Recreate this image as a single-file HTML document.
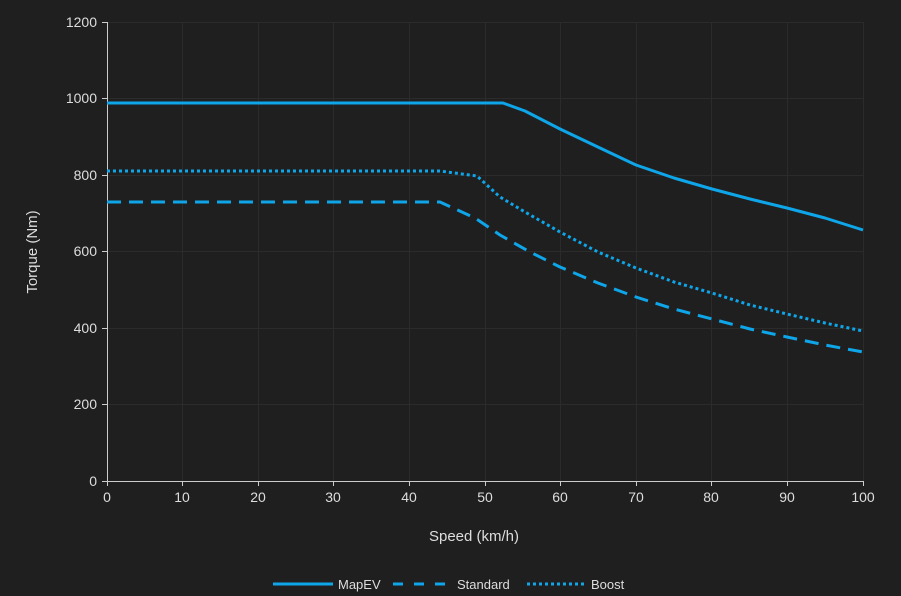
<!DOCTYPE html><html><head><style>body{margin:0;background:#1f1f1f}svg{display:block}text{font-family:"Liberation Sans",sans-serif;fill:#ddd}</style></head><body>
<svg width="901" height="596" viewBox="0 0 901 596">
<rect width="901" height="596" fill="#1f1f1f"/>
<g stroke="#2b2b2b" stroke-width="1">
<line x1="107" y1="22.5" x2="863" y2="22.5"/><line x1="107" y1="98.5" x2="863" y2="98.5"/><line x1="107" y1="175.5" x2="863" y2="175.5"/><line x1="107" y1="251.5" x2="863" y2="251.5"/><line x1="107" y1="328.5" x2="863" y2="328.5"/><line x1="107" y1="404.5" x2="863" y2="404.5"/>
<line x1="182.5" y1="22" x2="182.5" y2="481"/><line x1="258.5" y1="22" x2="258.5" y2="481"/><line x1="333.5" y1="22" x2="333.5" y2="481"/><line x1="409.5" y1="22" x2="409.5" y2="481"/><line x1="485.5" y1="22" x2="485.5" y2="481"/><line x1="560.5" y1="22" x2="560.5" y2="481"/><line x1="636.5" y1="22" x2="636.5" y2="481"/><line x1="711.5" y1="22" x2="711.5" y2="481"/><line x1="787.5" y1="22" x2="787.5" y2="481"/><line x1="863.5" y1="22" x2="863.5" y2="481"/>
</g>
<g stroke="#ccc" stroke-width="1">
<line x1="107.5" y1="22" x2="107.5" y2="481"/><line x1="107" y1="481.5" x2="863" y2="481.5"/>
<line x1="102" y1="22.5" x2="107" y2="22.5"/><line x1="102" y1="98.5" x2="107" y2="98.5"/><line x1="102" y1="175.5" x2="107" y2="175.5"/><line x1="102" y1="251.5" x2="107" y2="251.5"/><line x1="102" y1="328.5" x2="107" y2="328.5"/><line x1="102" y1="404.5" x2="107" y2="404.5"/><line x1="102" y1="481.5" x2="107" y2="481.5"/>
<line x1="107.5" y1="481" x2="107.5" y2="486"/><line x1="182.5" y1="481" x2="182.5" y2="486"/><line x1="258.5" y1="481" x2="258.5" y2="486"/><line x1="333.5" y1="481" x2="333.5" y2="486"/><line x1="409.5" y1="481" x2="409.5" y2="486"/><line x1="485.5" y1="481" x2="485.5" y2="486"/><line x1="560.5" y1="481" x2="560.5" y2="486"/><line x1="636.5" y1="481" x2="636.5" y2="486"/><line x1="711.5" y1="481" x2="711.5" y2="486"/><line x1="787.5" y1="481" x2="787.5" y2="486"/><line x1="863.5" y1="481" x2="863.5" y2="486"/>
</g>
<g font-size="14" text-anchor="end">
<text x="97" y="27">1200</text><text x="97" y="103">1000</text><text x="97" y="180">800</text><text x="97" y="256">600</text><text x="97" y="333">400</text><text x="97" y="409">200</text><text x="97" y="486">0</text>
</g>
<g font-size="14" text-anchor="middle">
<text x="107" y="502">0</text><text x="182" y="502">10</text><text x="258" y="502">20</text><text x="333" y="502">30</text><text x="409" y="502">40</text><text x="485" y="502">50</text><text x="560" y="502">60</text><text x="636" y="502">70</text><text x="711" y="502">80</text><text x="787" y="502">90</text><text x="863" y="502">100</text>
<text x="474" y="541" font-size="15">Speed (km/h)</text>
<text transform="translate(37,252) rotate(-90)" font-size="15">Torque (Nm)</text>
</g>
<g fill="none" stroke="#0ea5e9" stroke-width="3" stroke-linejoin="round">
<polyline points="107,103 503,103 525,111 560,129 600,148 636,165 674,178 712,189 750,199 787,208 825,218 863,230"/>
<polyline stroke-dasharray="14,8" points="107,202 440,202 475,218 500,235 530,252 560,267 598,283 636,297 674,309 712,319 750,329 787,337 825,345 863,352"/>
<polyline stroke-dasharray="3,3" points="107,171 440,171 477,176 500,197 525,212 560,232 598,252 636,268 674,282 712,293 750,305 787,314 825,323 863,331"/>
</g>
<g stroke="#0ea5e9" stroke-width="3">
<line x1="273" y1="584" x2="333" y2="584"/>
<line x1="393" y1="584" x2="448" y2="584" stroke-dasharray="10,11"/>
<line x1="527" y1="584" x2="585" y2="584" stroke-dasharray="3,3"/>
</g>
<g font-size="13"><text x="338" y="589">MapEV</text><text x="457" y="589">Standard</text><text x="591" y="589">Boost</text></g>
</svg></body></html>
